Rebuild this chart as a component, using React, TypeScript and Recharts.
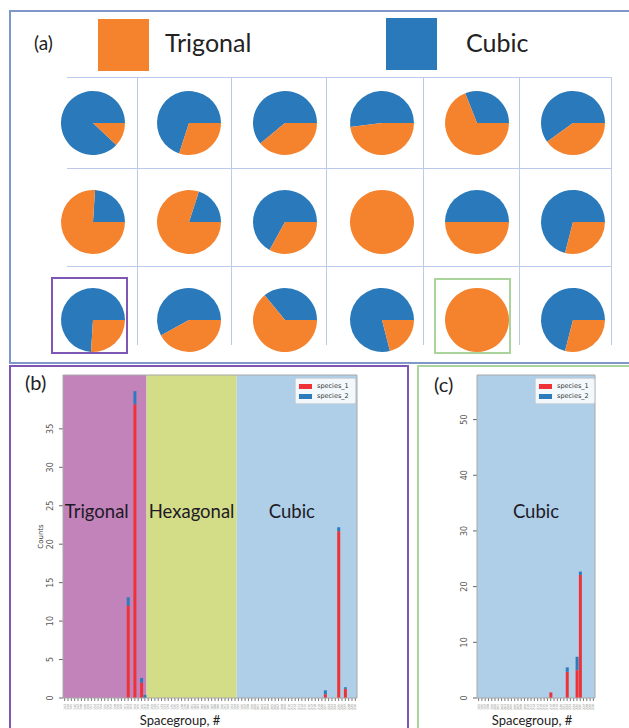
import React from "react";
import { PieChart, Pie, Cell, BarChart, Bar, XAxis, YAxis, ReferenceArea, Legend } from "recharts";

// ---- panel (a): share of each phase per sample, in %
const phaseNames = ["Cubic", "Trigonal"];
const trigonalPct = [
  [12, 30, 39, 48, 69, 40],
  [76, 80, 33, 100, 50, 29],
  [26, 42, 64, 21, 100, 29],
];
const cubicPct = [
  [88, 70, 61, 52, 31, 60],
  [24, 20, 67, 0, 50, 71],
  [74, 58, 36, 79, 0, 71],
];

// ---- panels (b) and (c): counts per spacegroup
const spacegroupsB = [
  143, 144, 145, 146, 147, 148, 149, 150, 151, 152, 153, 154, 155, 156, 157, 158, 159, 160, 161, 162,
  163, 164, 165, 166, 167, 168, 169, 170, 171, 172, 173, 174, 175, 176, 177, 178, 179, 180, 181, 182,
  183, 184, 185, 186, 187, 188, 189, 190, 191, 192, 193, 194, 195, 196, 197, 198, 199, 200, 201, 202,
  203, 204, 205, 206, 207, 208, 209, 210, 211, 212, 213, 214, 215, 216, 217, 218, 219, 220, 221, 222,
  223, 224, 225, 226, 227, 228, 229, 230,
];
const spacegroupsC = [
  195, 196, 197, 198, 199, 200, 201, 202, 203, 204, 205, 206, 207, 208, 209, 210, 211, 212, 213, 214,
  215, 216, 217, 218, 219, 220, 221, 222, 223, 224, 225, 226, 227, 228, 229, 230,
];

const peakSgB = [162, 164, 166, 167, 221, 225, 227];
const species1B = [12, 38.2, 2.0, 0, 0.5, 21.7, 1.2];
const species2B = [1.1, 1.7, 0.6, 0.4, 0.5, 0.5, 0.2];

const peakSgC = [217, 222, 225, 226];
const species1C = [1.0, 4.7, 5.0, 22.1];
const species2C = [0, 0.8, 2.4, 0.6];

const regionNames = ["Trigonal", "Hexagonal", "Cubic"];
const regionFrom = [143, 168, 195];
const regionTo = [167, 194, 230];

const ticksB = [0, 5, 10, 15, 20, 25, 30, 35];
const ticksC = [0, 10, 20, 30, 40, 50];

// ---- styles
const ORANGE = "#f5822d";
const BLUE = "#2a7abb";
const phaseColors = [BLUE, ORANGE];
const regionColors = ["#c283ba", "#d3dc86", "#aecfe7"];
const RED = "#ee3237";
const BAR_BLUE = "#2b7bbd";

const colX = [88, 184, 280, 377, 472, 568];
const rowY = [118, 217, 315];

function buildTable(sgs: number[], peaks: number[], s1: number[], s2: number[]) {
  return sgs.map((sg) => {
    const i = peaks.indexOf(sg);
    return { sg, species_1: i >= 0 ? s1[i] : 0, species_2: i >= 0 ? s2[i] : 0 };
  });
}

const dataB = buildTable(spacegroupsB, peakSgB, species1B, species2B);
const dataC = buildTable(spacegroupsC, peakSgC, species1C, species2C);

const XTick = ({ x, y, payload }: any) => (
  <text
    x={x + 1}
    y={y + 1}
    transform={`rotate(-90 ${x + 1} ${y + 1})`}
    textAnchor="end"
    fontSize={3.2}
    fill="#8a8a8a"
    fontFamily="DejaVu Sans"
  >
    {payload.value}
  </text>
);

const YTick = ({ x, y, payload }: any) => (
  <text
    x={x - 4}
    y={y}
    transform={`rotate(-90 ${x - 4} ${y})`}
    textAnchor="middle"
    fontSize={8}
    fill="#555"
    fontFamily="DejaVu Sans"
  >
    {payload.value}
  </text>
);

const RegionLabel = ({ viewBox, text, dx }: any) => {
  if (!viewBox) return null;
  return (
    <text
      x={viewBox.x + viewBox.width / 2 + dx}
      y={viewBox.y + viewBox.height * 0.42}
      textAnchor="middle"
      dominantBaseline="central"
      fontFamily="Lato, sans-serif"
      fontSize={18.5}
      fill="#1e1a26"
    >
      {text}
    </text>
  );
};

const AxisTitle = ({ viewBox, text, dx }: any) => {
  if (!viewBox) return null;
  return (
    <text
      x={viewBox.x + viewBox.width / 2 + dx}
      y={viewBox.y + 22}
      textAnchor="middle"
      dominantBaseline="central"
      fontFamily="Lato, sans-serif"
      fontSize={13}
      fill="#222"
    >
      {text}
    </text>
  );
};

const CountsTitle = ({ viewBox }: any) => {
  if (!viewBox) return null;
  const x = viewBox.x + viewBox.width - 20;
  const y = viewBox.y + viewBox.height / 2;
  return (
    <text x={x} y={y} transform={`rotate(-90 ${x} ${y})`} textAnchor="middle" fontSize={7} fill="#333" fontFamily="DejaVu Sans">
      Counts
    </text>
  );
};

const SpeciesLegend = ({ payload }: any) => (
  <div
    style={{
      background: "rgba(255,255,255,0.85)",
      border: "1px solid #d8d8d8",
      borderRadius: 2,
      padding: "2px 3px",
      fontFamily: "DejaVu Sans",
      fontSize: 6.5,
      color: "#333",
      lineHeight: "10px",
    }}
  >
    {(payload || []).map((p: any) => (
      <div key={p.value} style={{ display: "flex", alignItems: "center" }}>
        <span style={{ display: "inline-block", width: 13, height: 5, background: p.color, marginRight: 5 }} />
        {p.value}
      </div>
    ))}
  </div>
);

function CountsChart(props: {
  data: any[];
  width: number;
  height: number;
  margin: any;
  yWidth: number;
  yMax: number;
  ticks: number[];
  regions: number[];
  labelDx: number[];
  titleDx: number;
  showCounts: boolean;
  legendPos: { top: number; left: number; width: number };
}) {
  const { data } = props;
  const first = data[0].sg;
  const last = data[data.length - 1].sg;
  return (
    <BarChart width={props.width} height={props.height} data={data} margin={props.margin} barCategoryGap="8%" barGap={0}>
      {props.regions.map((r) => (
        <ReferenceArea
          key={"fill" + regionNames[r]}
          x1={regionFrom[r]}
          x2={regionTo[r]}
          y1={0}
          y2={props.yMax}
          fill={regionColors[r]}
          fillOpacity={1}
          stroke="none"
          zIndex={-60}
        />
      ))}
      {props.regions.map((r, k) => (
        <ReferenceArea
          key={"label" + regionNames[r]}
          x1={regionFrom[r]}
          x2={regionTo[r]}
          y1={0}
          y2={props.yMax}
          fill="none"
          stroke="none"
          zIndex={-50}
          label={<RegionLabel text={regionNames[r]} dx={props.labelDx[k]} />}
        />
      ))}
      <XAxis
        dataKey="sg"
        interval={0}
        tick={<XTick />}
        tickSize={3}
        tickLine={{ stroke: "#777" }}
        axisLine={false}
        height={30}
        label={<AxisTitle text="Spacegroup, #" dx={props.titleDx} />}
      />
      <YAxis
        domain={[0, props.yMax]}
        ticks={props.ticks}
        width={props.yWidth}
        tick={<YTick />}
        tickSize={4}
        tickMargin={2}
        tickLine={{ stroke: "#666" }}
        axisLine={false}
        label={props.showCounts ? <CountsTitle /> : undefined}
      />
      <Legend
        layout="vertical"
        align="center"
        verticalAlign="middle"
        content={<SpeciesLegend />}
        wrapperStyle={{ top: props.legendPos.top, left: props.legendPos.left, width: props.legendPos.width }}
      />
      <Bar dataKey="species_1" name="species_1" stackId="s" fill={RED} isAnimationActive={false} />
      <Bar dataKey="species_2" name="species_2" stackId="s" fill={BAR_BLUE} isAnimationActive={false} />
      <ReferenceArea x1={first} x2={last} y1={0} y2={props.yMax} fill="none" stroke="#a8a8a8" strokeWidth={1} zIndex={900} />
    </BarChart>
  );
}

const abs = (s: React.CSSProperties): React.CSSProperties => ({ position: "absolute", boxSizing: "border-box", ...s });

export default function App() {
  const gridLine = "#bcc8ec";
  return (
    <div style={abs({ left: 0, top: 0, width: 629, height: 728, overflow: "hidden", background: "#fff", fontFamily: "Lato, sans-serif" })}>
      {/* frames */}
      <div style={abs({ left: 9, top: 10, width: 640, height: 354, border: "2px solid #7f97c9" })} />
      <div style={abs({ left: 9, top: 365, width: 400, height: 380, border: "2px solid #7d57b3" })} />
      <div style={abs({ left: 417, top: 365, width: 230, height: 380, border: "2px solid #a9d59d" })} />

      {/* panel (a) header */}
      <div style={abs({ left: 34, top: 31, fontSize: 19, color: "#222" })}>(a)</div>
      <div style={abs({ left: 98, top: 19, width: 51, height: 52, background: phaseColors[1] })} />
      <div style={abs({ left: 165, top: 27, fontSize: 25, color: "#222" })}>{phaseNames[1]}</div>
      <div style={abs({ left: 386, top: 18, width: 51, height: 52, background: phaseColors[0] })} />
      <div style={abs({ left: 466, top: 27, fontSize: 25, color: "#222" })}>{phaseNames[0]}</div>

      {/* pie grid lines */}
      {[77, 168, 266].map((y) => (
        <div key={"h" + y} style={abs({ left: 67, top: y, width: 545, height: 1, background: gridLine })} />
      ))}
      {[137, 231, 326, 423, 519, 611].map((x) => (
        <div key={"v" + x} style={abs({ left: x, top: 77, width: 1, height: 268, background: gridLine })} />
      ))}

      <div style={abs({ left: 0, top: 0 })}>
        <PieChart width={629} height={360}>
          {rowY.map((cy, i) =>
            colX.map((cx, j) => (
              <Pie
                key={`p${i}-${j}`}
                data={[
                  { name: phaseNames[0], value: cubicPct[i][j] },
                  { name: phaseNames[1], value: trigonalPct[i][j] },
                ]}
                dataKey="value"
                cx={cx}
                cy={cy}
                outerRadius={32}
                startAngle={0}
                endAngle={360}
                stroke="none"
                isAnimationActive={false}
              >
                {phaseColors.map((c) => (
                  <Cell key={c} fill={c} stroke="none" />
                ))}
              </Pie>
            ))
          )}
        </PieChart>
      </div>

      {/* highlight boxes */}
      <div style={abs({ left: 51, top: 277, width: 77, height: 77, border: "2px solid #7d57b3" })} />
      <div style={abs({ left: 434, top: 278, width: 77, height: 76, border: "2px solid #a9d59d" })} />

      {/* panel (b) */}
      <div style={abs({ left: 0, top: 360 })}>
        <CountsChart
          data={dataB}
          width={408}
          height={368}
          margin={{ top: 15, right: 51, left: 20, bottom: 0 }}
          yWidth={43}
          yMax={42}
          ticks={ticksB}
          regions={[0, 1, 2]}
          labelDx={[-8, 0, -5]}
          titleDx={-30}
          showCounts={true}
          legendPos={{ top: 18, left: 295, width: 61 }}
        />
      </div>
      <div style={abs({ left: 25, top: 370, fontSize: 20, color: "#222" })}>(b)</div>

      {/* panel (c) */}
      <div style={abs({ left: 410, top: 360 })}>
        <CountsChart
          data={dataC}
          width={219}
          height={368}
          margin={{ top: 15, right: 34, left: 20, bottom: 0 }}
          yWidth={47}
          yMax={58}
          ticks={ticksC}
          regions={[2]}
          labelDx={[0]}
          titleDx={-4}
          showCounts={false}
          legendPos={{ top: 18, left: 125, width: 60 }}
        />
      </div>
      <div style={abs({ left: 434, top: 372, fontSize: 20, color: "#222" })}>(c)</div>
    </div>
  );
}
